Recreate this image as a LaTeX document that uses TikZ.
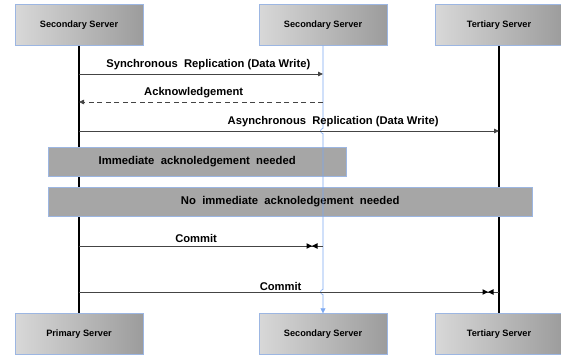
\documentclass[tikz,border=0pt]{standalone}
\usepackage{fontspec}
\setmainfont{Liberation Sans}
\usepackage{tikz}
\usetikzlibrary{positioning}
\usetikzlibrary{arrows.meta}
\usetikzlibrary{decorations.markings}
\usepackage{xcolor}
\definecolor{boxedge}{HTML}{9CB6E2}
\definecolor{boxlight}{HTML}{D8D8D8}
\definecolor{boxdark}{HTML}{9C9C9C}
\definecolor{notegray}{HTML}{A6A6A6}
\definecolor{lifeblue}{HTML}{7BA8F2}
\definecolor{msgline}{HTML}{444444}

\begin{document}
\begin{tikzpicture}[x=1pt, y=-1pt,
        server/.style={draw=boxedge, left color=boxlight, right color=boxdark, minimum width=128pt, minimum height=41pt, inner sep=0pt, font=\fontsize{9.2}{11}\selectfont\bfseries},
        note/.style={draw=boxedge, fill=notegray, minimum height=29pt, inner sep=0pt, anchor=west, font=\fontsize{11.3}{13}\selectfont\bfseries},
        life/.style={line width=1.2pt},
        bluelife/.style={draw=lifeblue, line width=.6pt, -{Triangle[length=5pt,width=5pt]}},
        msg/.style={draw=msgline, line width=.8pt, -{Triangle[length=5pt,width=4.5pt]}},
        reply/.style={msg, dashed, dash pattern=on 5pt off 3.5pt},
        commit/.style={draw=msgline, line width=.8pt, postaction={decorate}, decoration={markings, mark=at position -11pt with {
            \fill[black] (-5.5pt,-2.8pt) -- (0,0) -- (-5.5pt,2.8pt) -- cycle;
            \fill[black] (5.5pt,-2.8pt) -- (0,0) -- (5.5pt,2.8pt) -- cycle;}}},
        lbl/.style={font=\fontsize{11.2}{13}\selectfont\bfseries, inner sep=1pt}]
        \useasboundingbox (0,0) rectangle (561,355);

        \foreach \n/\x/\t in {1/79/Secondary Server, 2/323/Secondary Server, 3/499/Tertiary Server}
            \node[server] (top\n) at (\x,25) {\t};
        \foreach \n/\x/\t in {1/79/Primary Server, 2/323/Secondary Server, 3/499/Tertiary Server}
            \node[server] (bot\n) at (\x,334) {\t};

        \foreach \n/\y in {sync/74, ack/102, async/131, comA/246, comB/292}
        {
            \coordinate (\n-p) at (79,\y);
            \coordinate (\n-s) at (323,\y);
            \coordinate (\n-t) at (499,\y);
        }

        \draw[life] (top1) -- (bot1);
        \draw[life] (top3) -- (bot3);

        \node[note, minimum width=298pt] (imm) at (48,162) {Immediate~ acknoledgement~ needed};
        \node[note, minimum width=484pt] (noimm) at (48,202) {No~ immediate~ acknoledgement~ needed};

        \draw[bluelife] (top2) -- (323,128.5) arc[start angle=-90, end angle=-270, radius=2.5] -- (323,289.5) arc[start angle=-90, end angle=-270, radius=2.5] -- (bot2);

        \draw[msg] (sync-p) -- (sync-s) node[lbl, pos=.53, above=3pt] {Synchronous~ Replication (Data Write)};
        \draw[reply] (ack-s) -- (ack-p) node[lbl, pos=.53, above=3pt] {Acknowledgement};
        \draw[msg] (async-p) -- (async-t) node[lbl, pos=.605, above=3pt] {Asynchronous~ Replication (Data Write)};
        \draw[commit] (comA-p) -- (comA-s) node[lbl, pos=.48, above=2pt] {Commit};
        \draw[commit] (comB-p) -- (comB-t) node[lbl, pos=.48, above=0pt] {Commit};
    \end{tikzpicture}
\end{document}
